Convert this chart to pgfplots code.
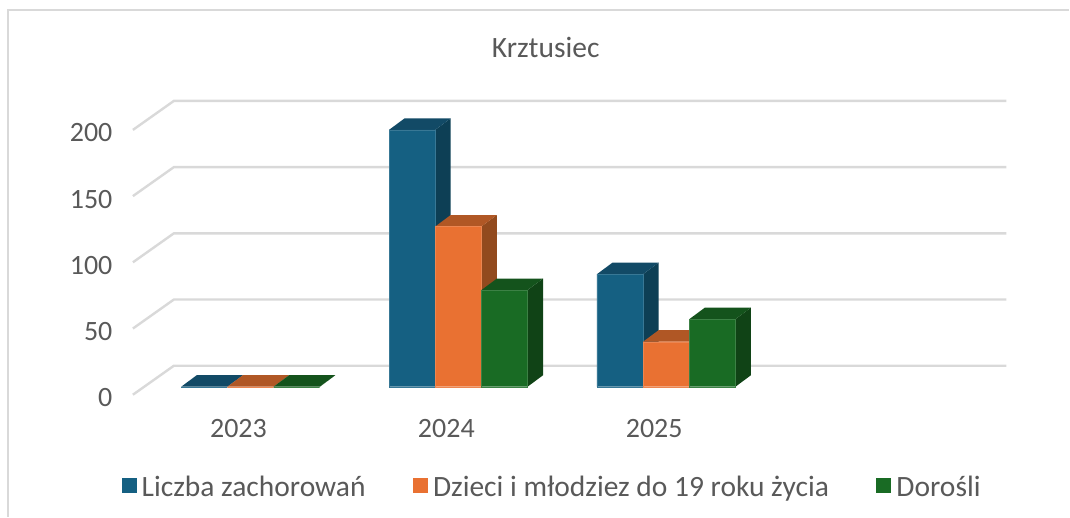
\documentclass[border=0pt]{standalone}
\usepackage{pgfplots}
\usepackage{pgfplotstable}
\pgfplotsset{compat=1.18}
\usepackage{fontspec}
\setmainfont{Carlito}
\definecolor{bluef}{HTML}{156082}\definecolor{bluet}{HTML}{124A66}\definecolor{blues}{HTML}{0D3F55}
\definecolor{orangef}{HTML}{E97132}\definecolor{oranget}{HTML}{B05725}\definecolor{oranges}{HTML}{924A1E}
\definecolor{greenf}{HTML}{196B24}\definecolor{greent}{HTML}{14531C}\definecolor{greens}{HTML}{104316}
\definecolor{txt}{HTML}{595959}\definecolor{gridc}{HTML}{D9D9D9}
\pgfplotstableread{
x a b c
0 0 0 0
1 194 121 73
2 85 34 51
}\cases
% x units: one category = 208 px; y units: 1.325 px per case
\pgfmathsetmacro{\bw}{46.2/208}
\pgfmathsetmacro{\dx}{15.5/208}
\pgfmathsetmacro{\dy}{11.5/1.325}
\newcommand{\cube}[4]{% x centre, value, side colour, top colour
  \pgfmathsetmacro{\xa}{#1-\bw/2}\pgfmathsetmacro{\xb}{#1+\bw/2}
  \pgfmathsetmacro{\xc}{#1+\bw/2+\dx}\pgfmathsetmacro{\xd}{#1-\bw/2+\dx}
  \pgfmathsetmacro{\vt}{#2+\dy}
  \addplot[forget plot,fill=#3,draw=none,yshift=8pt] coordinates {(\xb,0)(\xc,\dy)(\xc,\vt)(\xb,#2)} --cycle;
  \addplot[forget plot,fill=#4,draw=none,yshift=8pt] coordinates {(\xa,#2)(\xb,#2)(\xc,\vt)(\xd,\vt)} --cycle;
}
\newcommand{\gridl}[1]{%
  \pgfmathsetmacro{\vt}{#1+21.9}
  \addplot[forget plot,gridc,line width=2.4pt] coordinates {(-0.5654,#1)(-0.3683,\vt)(3.636,\vt)};
}
\begin{document}
\begin{tikzpicture}
\begin{axis}[
  width=1070pt,height=517pt,scale only axis,
  xmin=-1.2048,xmax=3.9394,ymin=-92.08,ymax=298.11,
  axis line style={draw=none},
  tick style={draw=none},
  clip=false,
  xtick={0,1,2},xticklabels={2023,2024,2025},
  ytick={0,50,100,150,200},
  ticklabel style={text=txt,font=\fontsize{28}{28}\selectfont},
  /pgf/number format/assume math mode=true,
  xticklabel style={anchor=center,xshift=-12pt,yshift=88pt},
  yticklabel style={anchor=east,xshift=116pt,yshift=-3pt},
  legend style={draw=none,fill=none,anchor=center,
    at={(552.5pt,30pt)},font=\fontsize{29.5}{30}\selectfont,text=txt,
    /tikz/every even column/.style={column sep=45.5pt}},
  legend columns=3,
  legend image code/.code={\fill[#1,draw=none] (0pt,-14.5pt) rectangle (15pt,0.5pt);\path[draw=none,fill=none] (0pt,0pt) -- (18pt,0pt);},
]
\draw[gridc,line width=1.4pt] (rel axis cs:0.0075,0) -- (rel axis cs:0.0075,0.981) -- (rel axis cs:1,0.981);
\gridl{0}\gridl{50}\gridl{100}\gridl{150}\gridl{200}
\cube{-0.2221}{0}{blues}{bluet}\cube{0.7779}{194}{blues}{bluet}\cube{1.7779}{85}{blues}{bluet}
\addplot[ybar,bar width=0.2221,bar shift=-0.2221,fill=bluef,draw=bluef!85!white,line width=0.4pt,yshift=8pt] table[x=x,y=a]{\cases};
\addlegendentry{Liczba zachorowań}
\cube{0}{0}{oranges}{oranget}\cube{1}{121}{oranges}{oranget}\cube{2}{34}{oranges}{oranget}
\addplot[ybar,bar width=0.2221,bar shift=0,fill=orangef,draw=orangef!85!white,line width=0.4pt,yshift=8pt] table[x=x,y=b]{\cases};
\addlegendentry{Dzieci i młodziez do 19 roku życia}
\cube{0.2221}{0}{greens}{greent}\cube{1.2221}{73}{greens}{greent}\cube{2.2221}{51}{greens}{greent}
\addplot[ybar,bar width=0.2221,bar shift=0.2221,fill=greenf,draw=greenf!85!white,line width=0.4pt,yshift=8pt] table[x=x,y=c]{\cases};
\addlegendentry{Dorośli}
\node[text=txt,font=\fontsize{29.5}{30}\selectfont,anchor=center] at (rel axis cs:0.5103,0.9072) {Krztusiec};
\end{axis}
\end{tikzpicture}
\end{document}
